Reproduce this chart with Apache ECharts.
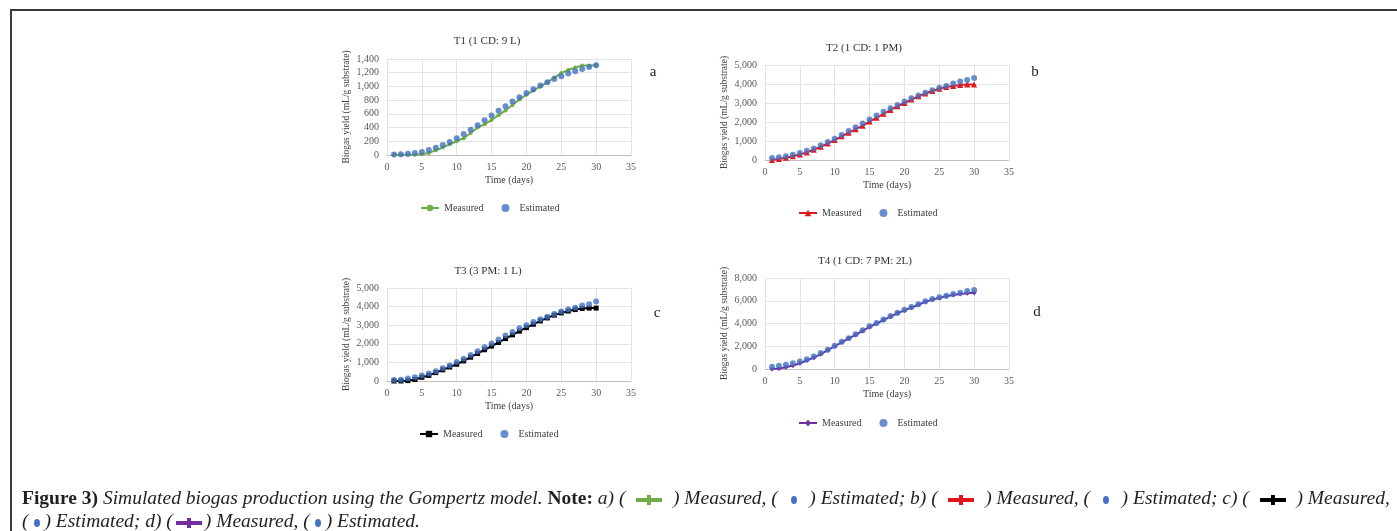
<!DOCTYPE html>
<html>
<head>
<meta charset="utf-8">
<script src="https://cdn.jsdelivr.net/npm/echarts@6/dist/echarts.min.js"></script>
<style>
  html, body { margin: 0; padding: 0; background: #fff; }
  #wrap { position: relative; width: 1397px; height: 531px; overflow: hidden; }
  #chart { position: absolute; left: 0; top: 0; width: 1397px; height: 531px; }
  #frame { position: absolute; left: 10px; top: 9px; width: 1400px; height: 540px;
           border-top: 2px solid #3a3a3a; border-left: 2px solid #3a3a3a; box-sizing: border-box; pointer-events: none; }
  #cap { position: absolute; left: 22px; top: 486px; font-family: 'Liberation Serif', serif; font-size: 19.5px;
         line-height: 23px; color: #231f20; white-space: nowrap; }
  #cap i { font-style: italic; }
  #cap b { font-weight: bold; }
  .ic { display: inline-block; width: 26px; height: 4px; vertical-align: middle; position: relative; margin: 0 3px; }
  .ic::after { content: ''; position: absolute; left: 11px; top: -3px; width: 4px; height: 10px; background: inherit; }
  .dot { display: inline-block; width: 6px; height: 8px; border-radius: 50%; background: #4472C4; vertical-align: middle; margin: 0 5px; }
</style>
</head>
<body>
<div id="wrap">
  <div id="chart"></div>
  <div id="frame"></div>
  <div id="cap">
    <span id="line1"><b>Figure 3)</b> <i>Simulated biogas production using the Gompertz model.</i> <b>Note:</b> <i>a) (<span class="ic" style="background:#70AD47"></span>) Measured, (<span class="dot"></span>) Estimated; b) (<span class="ic" style="background:#E0161E"></span>) Measured, (<span class="dot"></span>) Estimated; c) (<span class="ic" style="background:#000"></span>) Measured,</i></span><br>
    <span id="line2"><i>(<span class="dot"></span>) Estimated; d) (<span class="ic" style="background:#7030A0"></span>) Measured, (<span class="dot"></span>) Estimated.</i></span>
  </div>
</div>
<script>
// ---- data ----
const days = [1,2,3,4,5,6,7,8,9,10,11,12,13,14,15,16,17,18,19,20,21,22,23,24,25,26,27,28,29,30];
const xTicks = [0,5,10,15,20,25,30,35];

const t1Measured  = [0,0,2,5,10,30,70,110,155,200,245,320,400,450,510,580,650,730,810,880,940,1000,1060,1130,1195,1240,1275,1305,1305,1310];
const t1Estimated = [8,12,18,28,45,72,105,145,190,245,305,370,435,505,575,645,712,780,843,903,960,1013,1062,1108,1150,1188,1222,1254,1283,1308];

const t2Measured  = [0,50,120,200,290,400,540,700,870,1050,1250,1430,1620,1800,2030,2220,2430,2630,2830,3000,3180,3350,3500,3630,3750,3840,3900,3950,3970,3970];
const t2Estimated = [100,140,195,270,375,485,610,775,950,1120,1310,1520,1720,1920,2130,2340,2540,2720,2900,3080,3250,3400,3540,3670,3800,3900,4030,4130,4210,4310];

const t3Measured  = [0,0,20,80,200,300,450,600,750,900,1080,1280,1480,1680,1880,2070,2280,2480,2680,2870,3050,3230,3390,3540,3660,3760,3840,3900,3920,3920];
const t3Estimated = [50,70,130,200,300,400,530,680,840,1020,1200,1400,1600,1820,2020,2230,2440,2640,2830,3000,3170,3320,3460,3600,3730,3840,3940,4060,4130,4270];

const t4Measured  = [0,50,150,300,500,750,1000,1300,1650,2000,2350,2700,3000,3350,3700,4000,4300,4600,4900,5150,5400,5650,5900,6100,6250,6400,6500,6600,6650,6700];
const t4Estimated = [200,280,370,500,650,850,1100,1400,1700,2050,2400,2700,3050,3400,3750,4050,4350,4650,4950,5200,5450,5700,5950,6150,6300,6450,6600,6700,6850,6950];

const titles = ['T1 (1 CD: 9 L)', 'T2 (1 CD: 1 PM)', 'T3 (3 PM: 1 L)', 'T4 (1 CD: 7 PM: 2L)'];
const panelLetters = ['a', 'b', 'c', 'd'];
const yMax = [1400, 5000, 5000, 8000];
const yStep = [200, 1000, 1000, 2000];
const yTitle = 'Biogas yield (mL/g substrate)';
const xTitle = 'Time (days)';
const legendNames = ['Measured', 'Estimated'];

// ---- layout ----
const FONT = "'Liberation Serif', 'Times New Roman', serif";
const grids = [
  {left: 387, top: 59,  width: 244, height: 96},
  {left: 765, top: 65,  width: 244, height: 95},
  {left: 387, top: 288, width: 244, height: 93},
  {left: 765, top: 278, width: 244, height: 91}
];
const titlePos = [[487, 41], [864, 48], [488, 271], [865, 261]];
const letterPos = [[653, 72], [1035, 72], [657, 313], [1037, 312]];
const legendPos = [[420, 203], [798, 208], [419, 429], [798, 418]];
const measuredStyle = [
  {color: '#70AD47', symbol: 'circle', size: 4},
  {color: '#E0161E', symbol: 'triangle', size: 6},
  {color: '#000000', symbol: 'rect', size: 5},
  {color: '#7030A0', symbol: 'diamond', size: 5}
];
const measuredData = [t1Measured, t2Measured, t3Measured, t4Measured];
const estimatedData = [t1Estimated, t2Estimated, t3Estimated, t4Estimated];

const pair = (arr) => days.map((d, i) => [d, arr[i]]);

const option = {
  animation: false,
  backgroundColor: '#fff',
  grid: grids.map(g => Object.assign({containLabel: false}, g)),
  xAxis: grids.map((g, i) => ({
    gridIndex: i, type: 'value', min: xTicks[0], max: xTicks[xTicks.length - 1], interval: 5,
    name: xTitle, nameLocation: 'middle', nameGap: 20,
    nameTextStyle: {fontFamily: FONT, fontSize: 10, color: '#404040'},
    axisLine: {show: true, lineStyle: {color: '#BFBFBF', width: 1}},
    axisTick: {show: false},
    axisLabel: {fontFamily: FONT, fontSize: 10, color: '#595959', margin: 7},
    splitLine: {show: true, lineStyle: {color: '#E3E3E3', width: 1}}
  })),
  yAxis: grids.map((g, i) => ({
    gridIndex: i, type: 'value', min: 0, max: yMax[i], interval: yStep[i],
    name: yTitle, nameLocation: 'middle', nameRotate: 90, nameGap: 36,
    nameTextStyle: {fontFamily: FONT, fontSize: 9.5, color: '#404040'},
    axisLine: {show: false}, axisTick: {show: false},
    axisLabel: {fontFamily: FONT, fontSize: 10, color: '#595959', margin: 8,
      formatter: v => v.toLocaleString('en-US')},
    splitLine: {show: true, lineStyle: {color: '#E3E3E3', width: 1}}
  })),
  legend: grids.map((g, i) => ({
    left: legendPos[i][0], top: legendPos[i][1], orient: 'horizontal', padding: 0,
    itemWidth: 18, itemHeight: 8, itemGap: 18,
    data: ['T' + (i + 1) + ' ' + legendNames[0], 'T' + (i + 1) + ' ' + legendNames[1]],
    formatter: n => n.split(' ')[1],
    textStyle: {fontFamily: FONT, fontSize: 10, color: '#404040'},
    selectedMode: false
  })),
  series: [].concat(...grids.map((g, i) => [
    {
      name: 'T' + (i + 1) + ' ' + legendNames[0], type: 'line',
      xAxisIndex: i, yAxisIndex: i, data: pair(measuredData[i]),
      symbol: measuredStyle[i].symbol, symbolSize: measuredStyle[i].size, showSymbol: true,
      lineStyle: {color: measuredStyle[i].color, width: 2},
      itemStyle: {color: measuredStyle[i].color},
      z: 2
    },
    {
      name: 'T' + (i + 1) + ' ' + legendNames[1], type: 'scatter',
      xAxisIndex: i, yAxisIndex: i, data: pair(estimatedData[i]),
      symbol: 'circle', symbolSize: 6,
      itemStyle: {color: '#4472C4'},
      z: 3
    }
  ])),
  graphic: [].concat(
    titles.map((t, i) => ({
      type: 'text', x: titlePos[i][0], y: titlePos[i][1],
      style: {text: t, align: 'center', verticalAlign: 'middle', textAlign: 'center', textVerticalAlign: 'middle',
              font: '11px ' + FONT, fill: '#333333'}
    })),
    panelLetters.map((t, i) => ({
      type: 'text', x: letterPos[i][0], y: letterPos[i][1],
      style: {text: t, align: 'center', verticalAlign: 'middle', textAlign: 'center', textVerticalAlign: 'middle',
              font: '15px ' + FONT, fill: '#222222'}
    }))
  )
};

const chart = echarts.init(document.getElementById('chart'), null, {renderer: 'canvas'});
chart.setOption(option);

// fit caption first line to the reference width: spread the slack over the line-1 icon margins
const l1 = document.getElementById('line1');
const w = l1.getBoundingClientRect().width;
const target = 1368;
const icons1 = l1.querySelectorAll('.ic, .dot');
const extra = (target - w) / (icons1.length * 2);
icons1.forEach(el => {
  const m = parseFloat(getComputedStyle(el).marginLeft) + extra;
  el.style.margin = '0 ' + Math.max(0, m).toFixed(2) + 'px';
});
</script>
</body>
</html>
